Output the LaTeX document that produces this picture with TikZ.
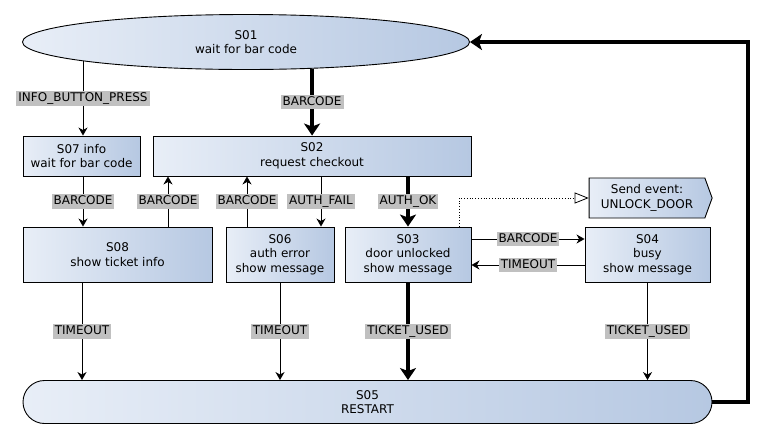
\documentclass[tikz,border=0pt]{standalone}
\usepackage{fontspec}
\setmainfont{DejaVu Sans}
\usetikzlibrary{arrows.meta,shapes.geometric,shapes.symbols}
\definecolor{stleft}{RGB}{232,238,247}
\definecolor{stright}{RGB}{182,200,226}
\definecolor{evgray}{RGB}{192,192,192}

\begin{document}
\begin{tikzpicture}[x=1pt, y=-1pt,
      every node/.style={font=\fontsize{12}{14.5}\selectfont},
      state/.style={rectangle,draw,line width=0.9pt,left color=stleft,right color=stright,align=center,inner sep=0pt},
      ev/.style={fill=evgray,inner xsep=2pt,inner ysep=1.5pt,text height=9pt,text depth=2.5pt},
      arr/.style={-{Stealth[length=8pt,width=9pt,inset=2.5pt]},line width=0.9pt},
      tarr/.style={-{Stealth[length=12pt,width=16pt,inset=3pt]},line width=4pt}
    ]
      \useasboundingbox (0,0) rectangle (765,437);

      \node[state,ellipse,minimum width=447pt,minimum height=55pt] (s01) at (246,42) {S01\\wait for bar code};
      \node[state,minimum width=117pt,minimum height=40pt] (s07) at (81.5,156) {S07 info\\wait for bar code};
      \node[state,minimum width=318pt,minimum height=40pt] (s02) at (312,156) {S02\\request checkout};
      \node[state,minimum width=189pt,minimum height=55pt] (s08) at (117.5,254.5) {S08\\show ticket info};
      \node[state,minimum width=108pt,minimum height=55pt] (s06) at (280,254.5) {S06\\auth error\\show message};
      \node[state,minimum width=126pt,minimum height=55pt] (s03) at (408,254.5) {S03\\door unlocked\\show message};
      \node[state,minimum width=125pt,minimum height=55pt] (s04) at (647.5,254.5) {S04\\busy\\show message};
      \node[state,signal,signal to=east,signal pointer angle=140,minimum width=123pt,minimum height=40pt] (evt) at (647,198) {Send event:\\UNLOCK\_DOOR};
      \node[state,rounded corners=21.5pt,minimum width=689pt,minimum height=43pt] (s05) at (367.5,402) {S05\\RESTART};

      \draw[arr] ([xshift=1.5pt,yshift=8.5pt]s07.north |- s01.south) -- node[ev]{INFO\_BUTTON\_PRESS} ([xshift=1.5pt]s07.north);
      \draw[tarr] (s01.338.3) -- node[ev]{BARCODE} (s01.338.3 |- s02.north);
      \draw[arr] ([xshift=1.5pt]s07.south) -- node[ev]{BARCODE} ([xshift=1.5pt]s07.south |- s08.north);
      \draw[arr] ([xshift=50.5pt]s08.north) -- node[ev]{BARCODE} ([xshift=50.5pt]s08.north |- s02.south);
      \draw[arr] ([xshift=-33pt]s06.north) -- node[ev]{BARCODE} ([xshift=-33pt]s06.north |- s02.south);
      \draw[arr] ([xshift=41pt]s06.north |- s02.south) -- node[ev]{AUTH\_FAIL} ([xshift=41pt]s06.north);
      \draw[tarr] (s02.south -| s03.north) -- node[ev]{AUTH\_OK} (s03.north);
      \draw[dotted,line width=0.8pt,-{Triangle[open,length=14pt,width=11pt]}] ([xshift=51pt]s03.north) |- (evt.west);
      \draw[arr] ([yshift=15.5pt]s03.east) -- node[ev]{BARCODE} ([yshift=15.5pt]s03.east -| s04.west);
      \draw[arr] ([yshift=-10.5pt]s04.west) -- node[ev]{TIMEOUT} ([yshift=-10.5pt]s04.west -| s03.east);
      \draw[arr] ([xshift=-35.5pt]s08.south) -- node[ev]{TIMEOUT} ([xshift=-35.5pt]s08.south |- s05.north);
      \draw[arr] (s06.south) -- node[ev]{TIMEOUT} (s06.south |- s05.north);
      \draw[tarr] (s03.south) -- node[ev]{TICKET\_USED} (s03.south |- s05.north);
      \draw[arr] (s04.south) -- node[ev]{TICKET\_USED} (s04.south |- s05.north);
      \draw[tarr] (s05.east) -- ++(36,0) |- (s01.east);
    \end{tikzpicture}
\end{document}
